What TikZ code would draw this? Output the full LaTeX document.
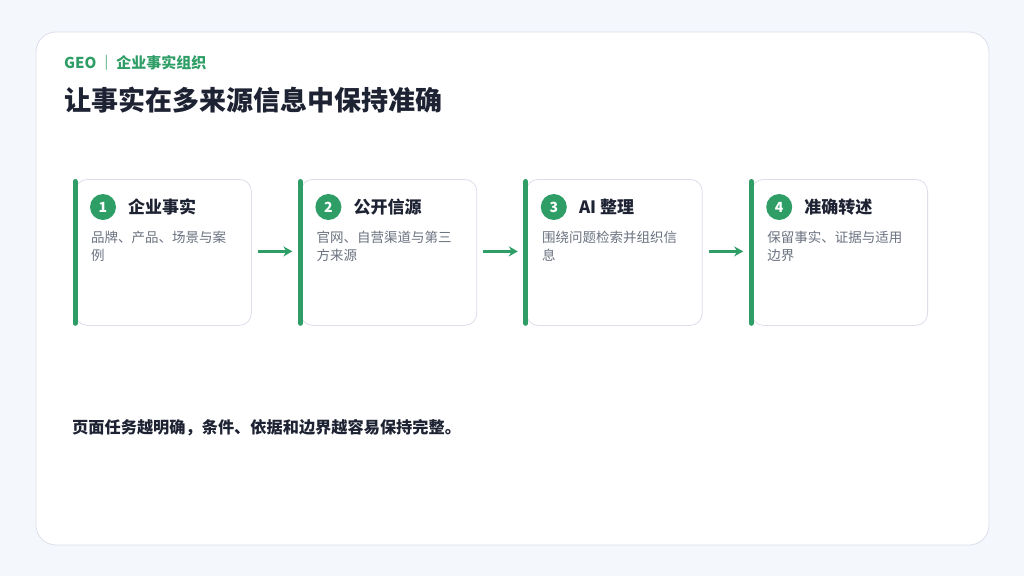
\documentclass[tikz,border=0pt]{standalone}
\usepackage{fontspec}
\setmainfont{Noto Sans CJK SC}
\usetikzlibrary{arrows.meta, positioning, calc}
\definecolor{geogreen}{HTML}{2E9E66}
\definecolor{inkdark}{HTML}{1E2333}
\definecolor{inkgray}{HTML}{6B7280}
\definecolor{cardline}{HTML}{DCDFEA}
\definecolor{pagebg}{HTML}{F4F7FB}

\begin{document}
\begin{tikzpicture}[x=1pt, y=-1pt, >=Stealth,
    card/.style={draw=cardline, line width=0.8pt, fill=white, rounded corners=12pt, minimum width=176pt, minimum height=146pt, inner sep=0pt, anchor=north west},
    bar/.style={draw=geogreen, line width=5pt, line cap=round, shorten <=2.5pt, shorten >=2.5pt},
    num/.style={circle, fill=geogreen, text=white, minimum size=26pt, inner sep=0pt, font=\fontsize{14}{14}\selectfont\bfseries},
    cardtitle/.style={anchor=west, text=inkdark, inner sep=0pt, font=\fontsize{17}{20}\selectfont\bfseries},
    desc/.style={anchor=north west, align=left, text=inkgray, inner sep=0pt, font=\fontsize{13.5}{18}\selectfont},
    flow/.style={->, draw=geogreen, line width=2.5pt, shorten <=6pt, shorten >=8pt, -{Stealth[length=9pt, width=10pt]}},
    node distance=48.6pt]
        \useasboundingbox[fill=pagebg] (0,0) rectangle (1024,576);
        \draw[fill=white, draw=cardline, line width=0.8pt, rounded corners=20pt] (36,32) rectangle (989,545);
        % header
        \node[anchor=west, inner sep=0pt, text=geogreen, font=\fontsize{15}{18}\selectfont\bfseries] (tag) at (64,63) {GEO\,｜\,企业事实组织};
        \node[anchor=west, inner sep=0pt, text=inkdark, font=\fontsize{27}{32}\selectfont\bfseries] (head) at (64,100) {让事实在多来源信息中保持准确};
        % cards
        \node[card] (c1) at (75,179) {};
        \node[card, right=of c1] (c2) {};
        \node[card, right=of c2] (c3) {};
        \node[card, right=of c3] (c4) {};
        \draw[bar] (c1.north west) -- (c1.south west);
        \draw[bar] (c2.north west) -- (c2.south west);
        \draw[bar] (c3.north west) -- (c3.south west);
        \draw[bar] (c4.north west) -- (c4.south west);
        \node[num] (n1) at ($(c1.north west)+(28,28)$) {1};
        \node[num] (n2) at ($(c2.north west)+(28,28)$) {2};
        \node[num] (n3) at ($(c3.north west)+(28,28)$) {3};
        \node[num] (n4) at ($(c4.north west)+(28,28)$) {4};
        \node[cardtitle] (t1) at ($(n1.center)+(25,0)$) {企业事实};
        \node[cardtitle] (t2) at ($(n2.center)+(25,0)$) {公开信源};
        \node[cardtitle] (t3) at ($(n3.center)+(25,0)$) {AI 整理};
        \node[cardtitle] (t4) at ($(n4.center)+(25,0)$) {准确转述};
        \node[desc] (d1) at ($(c1.north west)+(16,52)$) {品牌、产品、场景与案\\例};
        \node[desc] (d2) at ($(c2.north west)+(16,52)$) {官网、自营渠道与第三\\方来源};
        \node[desc] (d3) at ($(c3.north west)+(16,52)$) {围绕问题检索并组织信\\息};
        \node[desc] (d4) at ($(c4.north west)+(16,52)$) {保留事实、证据与适用\\边界};
        % flow
        \draw[flow] ($(c1.east)+(0,-1)$) -- ($(c2.west)+(0,-1)$);
        \draw[flow] ($(c2.east)+(0,-1)$) -- ($(c3.west)+(0,-1)$);
        \draw[flow] ($(c3.east)+(0,-1)$) -- ($(c4.west)+(0,-1)$);
        % note
        \node[anchor=west, inner sep=0pt, text=inkdark, font=\fontsize{16.2}{20}\selectfont\bfseries] (note) at (72,428) {页面任务越明确，条件、依据和边界越容易保持完整。};
    \end{tikzpicture}
\end{document}
